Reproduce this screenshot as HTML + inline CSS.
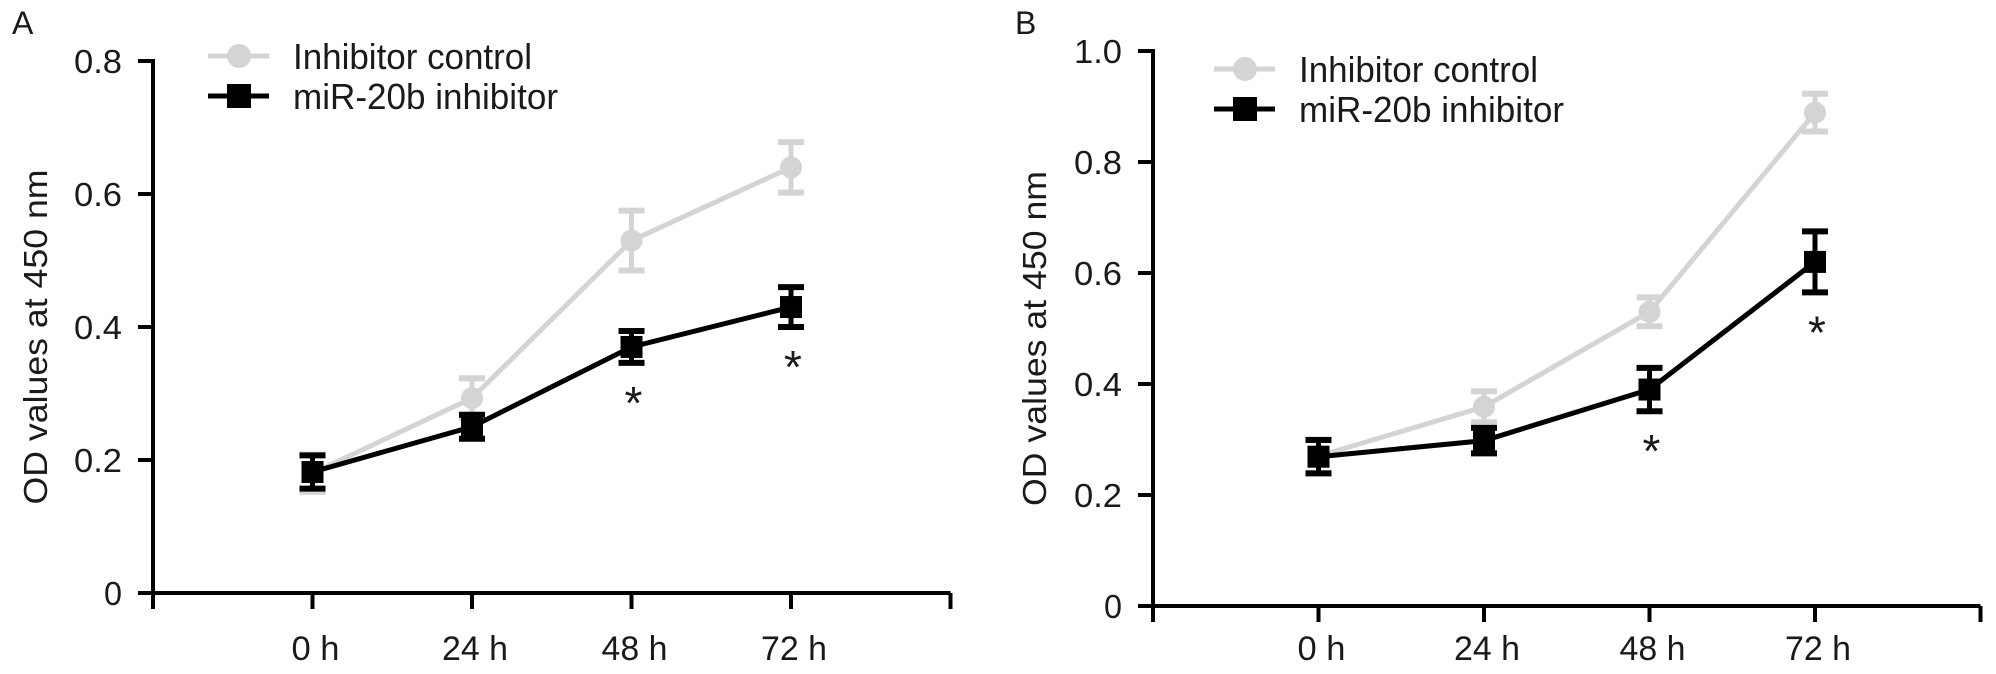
<!DOCTYPE html>
<html><head><meta charset="utf-8"><style>
html,body{margin:0;padding:0;background:#fff;}
svg{display:block;font-family:"Liberation Sans",Arial,sans-serif;}
</style></head><body>
<svg id="chart" width="1996" height="674" viewBox="0 0 1996 674" xmlns="http://www.w3.org/2000/svg"></svg>
<script>
const categories = ["0 h","24 h","48 h","72 h"];
const ctrlA = [0.18, 0.293, 0.53, 0.64];
const ctrlErrA = [0.028, 0.03, 0.045, 0.038];
const inhA = [0.182, 0.25, 0.37, 0.43];
const inhErrA = [0.025, 0.018, 0.024, 0.03];
const sigA = [false, false, true, true];
const ticksA = [0, 0.2, 0.4, 0.6, 0.8];
const tickLabelsA = ["0","0.2","0.4","0.6","0.8"];
const ctrlB = [0.27, 0.359, 0.53, 0.889];
const ctrlErrB = [0.03, 0.028, 0.026, 0.034];
const inhB = [0.269, 0.298, 0.39, 0.62];
const inhErrB = [0.03, 0.023, 0.039, 0.055];
const sigB = [false, false, true, true];
const ticksB = [0, 0.2, 0.4, 0.6, 0.8, 1.0];
const tickLabelsB = ["0","0.2","0.4","0.6","0.8","1.0"];

const NS = "http://www.w3.org/2000/svg";
const svg = document.getElementById("chart");
const GRAY = "#d4d4d4";
function mk(tag, attrs, parent){
  const e = document.createElementNS(NS, tag);
  for (const k in attrs) e.setAttribute(k, attrs[k]);
  (parent||svg).appendChild(e);
  return e;
}
function txt(parent, s, x, y, size, anchor, len){
  const t = mk("text", {x:x, y:y, "font-size":size, "text-anchor":anchor||"start", fill:"#1a1a1a"}, parent);
  if (len){ t.setAttribute("textLength", len); t.setAttribute("lengthAdjust","spacingAndGlyphs"); }
  t.textContent = s;
  return t;
}

function panel(cfg){
  const g = mk("g", {});
  
  
  const X = i => cfg.x0 + (i+1)*cfg.step;
  const Y = v => cfg.y0 - (v/cfg.ymax)*(cfg.y0 - cfg.ytop);
  const xEnd = cfg.x0 + 5*cfg.step;
  const pl = txt(g, cfg.letter, cfg.letterX, 34, 32, "start");
  
  
  const ya = mk("line", {x1:cfg.x0, y1:Y(cfg.ymax)-2, x2:cfg.x0, y2:cfg.y0+16, stroke:"#000","stroke-width":4}, g);
  
  
  cfg.ticks.forEach((v,i)=>{
    mk("line", {x1:cfg.x0-15, y1:Y(v), x2:cfg.x0, y2:Y(v), stroke:"#000","stroke-width":4}, g);
    const lbl = cfg.tickLabels[i];
    const t = txt(g, lbl, cfg.x0-31, Y(v)+12, 33, "end", lbl.length===1?18:48);
    
    
  });
  const xa = mk("line", {x1:cfg.x0-15, y1:cfg.y0, x2:xEnd, y2:cfg.y0, stroke:"#000","stroke-width":4}, g);
  
  
  mk("line", {x1:xEnd, y1:cfg.y0, x2:xEnd, y2:cfg.y0+16, stroke:"#000","stroke-width":4}, g);
  categories.forEach((c,i)=>{
    mk("line", {x1:X(i), y1:cfg.y0, x2:X(i), y2:cfg.y0+16, stroke:"#000","stroke-width":4}, g);
    const t = txt(g, c, X(i)+3, 660, 34, "middle", c.length===3?48:66);
    
    
  });
  const yt = txt(g, "OD values at 450 nm", 0, 0, 33, "middle", 335);
  yt.setAttribute("transform", `translate(${cfg.ytitleX},${(Y(cfg.ymax)+cfg.y0)/2+10}) rotate(-90)`);
  
  
  const pc = categories.map((c,i)=>`${X(i)},${Y(cfg.ctrl[i])}`).join(" ");
  const lc = mk("polyline", {points:pc, fill:"none", stroke:GRAY, "stroke-width":5}, g);
  
  
  cfg.ctrl.forEach((v,i)=>{
    const e = cfg.ctrlErr[i];
    mk("line", {x1:X(i), y1:Y(v+e), x2:X(i), y2:Y(v-e), stroke:GRAY,"stroke-width":5}, g);
    mk("line", {x1:X(i)-13, y1:Y(v+e), x2:X(i)+13, y2:Y(v+e), stroke:GRAY,"stroke-width":6}, g);
    mk("line", {x1:X(i)-13, y1:Y(v-e), x2:X(i)+13, y2:Y(v-e), stroke:GRAY,"stroke-width":6}, g);
    const m = mk("circle", {cx:X(i), cy:Y(v), r:11, fill:GRAY}, g);
    
    
  });
  const pi = categories.map((c,i)=>`${X(i)},${Y(cfg.inh[i])}`).join(" ");
  const li = mk("polyline", {points:pi, fill:"none", stroke:"#000", "stroke-width":5}, g);
  
  
  cfg.inh.forEach((v,i)=>{
    const e = cfg.inhErr[i];
    mk("line", {x1:X(i), y1:Y(v+e), x2:X(i), y2:Y(v-e), stroke:"#000","stroke-width":5}, g);
    mk("line", {x1:X(i)-13, y1:Y(v+e), x2:X(i)+13, y2:Y(v+e), stroke:"#000","stroke-width":6}, g);
    mk("line", {x1:X(i)-13, y1:Y(v-e), x2:X(i)+13, y2:Y(v-e), stroke:"#000","stroke-width":6}, g);
    const m = mk("rect", {x:X(i)-11, y:Y(v)-11, width:22, height:22, fill:"#000"}, g);
    
    
    if (cfg.sig[i]){
      const s = txt(g, "*", X(i)+2, Y(v-e)+56, 46, "middle");
      
      
    }
  });
  const lg = mk("g", {}, g);
  
  
  const lx = cfg.legX, ly = cfg.legY;
  const e1 = mk("g", {}, lg);
  
  
  mk("line", {x1:lx, y1:ly, x2:lx+61, y2:ly, stroke:GRAY, "stroke-width":5}, e1);
  mk("circle", {cx:lx+31, cy:ly, r:12, fill:GRAY}, e1);
  txt(e1, "Inhibitor control", lx+85, ly+13, 36, "start", 239);
  const e2 = mk("g", {}, lg);
  
  
  mk("line", {x1:lx, y1:ly+40, x2:lx+61, y2:ly+40, stroke:"#000", "stroke-width":5}, e2);
  mk("rect", {x:lx+19, y:ly+28, width:24, height:24, fill:"#000"}, e2);
  txt(e2, "miR-20b inhibitor", lx+85, ly+53, 36, "start", 265);
}

panel({name:"panel-a", letter:"A", letterX:12, x0:153, step:159.5, y0:593, ytop:61, ymax:0.8,
  ticks:ticksA, tickLabels:tickLabelsA, ctrl:ctrlA, ctrlErr:ctrlErrA, inh:inhA, inhErr:inhErrA, sig:sigA,
  ytitleX:47, legX:208, legY:56});
panel({name:"panel-b", letter:"B", letterX:1015, x0:1153, step:165.5, y0:606, ytop:51, ymax:1.0,
  ticks:ticksB, tickLabels:tickLabelsB, ctrl:ctrlB, ctrlErr:ctrlErrB, inh:inhB, inhErr:inhErrB, sig:sigB,
  ytitleX:1046, legX:1214, legY:69});
</script>
</body></html>
